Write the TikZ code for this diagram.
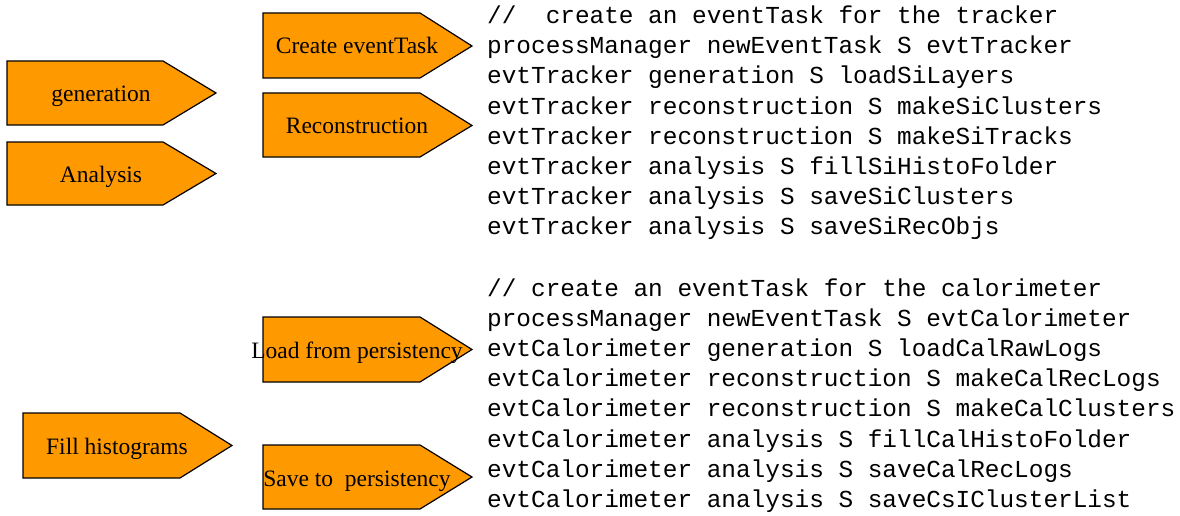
\documentclass[tikz,border=0pt]{standalone}
\usepackage{fontspec}
\setmainfont{Liberation Serif}
\setmonofont{Liberation Mono}
\definecolor{tagorange}{RGB}{255,153,0}
\tikzset{
  tagshape/.style={draw=black, fill=tagorange, line width=1.2pt, line join=miter},
  taglabel/.style={anchor=base, inner sep=0pt, font=\fontsize{23.5}{28}\selectfont},
  codeline/.style={anchor=base west, inner sep=0pt, font=\ttfamily\fontsize{24.4}{30}\selectfont}
}
\begin{document}
\begin{tikzpicture}[x=1pt,y=-1pt]
\useasboundingbox (0,0) rectangle (1180,516);
% tag shapes
\draw[tagshape] (7,61) -- (163,61) -- (216,93) -- (163,125) -- (7,125) -- cycle;
\draw[tagshape] (7,142) -- (163,142) -- (216,173.5) -- (163,205) -- (7,205) -- cycle;
\draw[tagshape] (263,13) -- (420,13) -- (472,46) -- (420,78) -- (263,78) -- cycle;
\draw[tagshape] (263,93) -- (420,93) -- (472,125.5) -- (420,157) -- (263,157) -- cycle;
\draw[tagshape] (263,317) -- (420,317) -- (472,349.5) -- (420,382) -- (263,382) -- cycle;
\draw[tagshape] (263,445) -- (420,445) -- (472,477) -- (420,509) -- (263,509) -- cycle;
\draw[tagshape] (23,413) -- (180,413) -- (232,445.5) -- (180,478) -- (23,478) -- cycle;
% labels
\node[taglabel] (gen) at (101,101.5) {generation};
\node[taglabel] (ana) at (101,182) {Analysis};
\node[taglabel] (cet) at (357,54) {Create eventTask};
\node[taglabel] (rec) at (357,134) {Reconstruction};
\node[taglabel] (load) at (357,358) {Load from persistency};
\node[taglabel] (save) at (357,486) {Save to~ persistency};
\node[taglabel] (fill) at (117,454) {Fill histograms};
% code blocks
\foreach \t [count=\i from 0] in {
  {//~~create an eventTask for the tracker},
  {processManager newEventTask S evtTracker},
  {evtTracker generation S loadSiLayers},
  {evtTracker reconstruction S makeSiClusters},
  {evtTracker reconstruction S makeSiTracks},
  {evtTracker analysis S fillSiHistoFolder},
  {evtTracker analysis S saveSiClusters},
  {evtTracker analysis S saveSiRecObjs}}
  \node[codeline] (ta\i) at (487,23.8+30.1*\i) {\t};
\foreach \t [count=\i from 0] in {
  {//~create an eventTask for the calorimeter},
  {processManager newEventTask S evtCalorimeter},
  {evtCalorimeter generation S loadCalRawLogs},
  {evtCalorimeter reconstruction S makeCalRecLogs},
  {evtCalorimeter reconstruction S makeCalClusters},
  {evtCalorimeter analysis S fillCalHistoFolder},
  {evtCalorimeter analysis S saveCalRecLogs},
  {evtCalorimeter analysis S saveCsIClusterList}}
  \node[codeline] (tb\i) at (487,296.5+30.1*\i) {\t};
\end{tikzpicture}
\end{document}
